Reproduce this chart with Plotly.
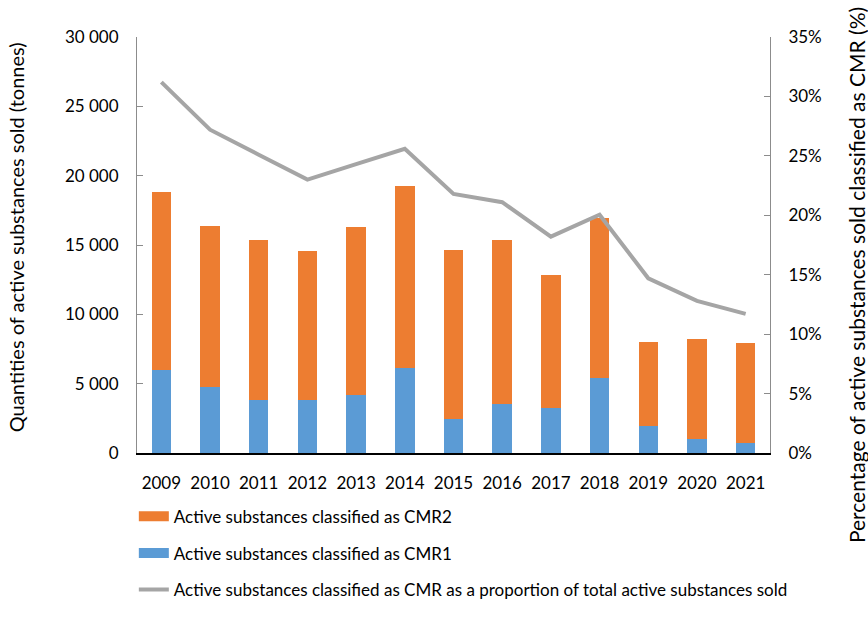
import plotly.graph_objects as go

years = ["2009", "2010", "2011", "2012", "2013", "2014", "2015",
         "2016", "2017", "2018", "2019", "2020", "2021"]
total_cmr = [18830, 16400, 15380, 14550, 16290, 19270, 14620,
             15340, 12870, 16930, 8040, 8220, 7920]
cmr1 = [6010, 4740, 3790, 3830, 4200, 6100, 2450,
        3530, 3230, 5410, 1960, 1000, 720]
cmr2 = [t - c for t, c in zip(total_cmr, cmr1)]
cmr_share = [31.2, 27.2, 25.1, 23.0, 24.3, 25.6, 21.8,
             21.1, 18.2, 20.05, 14.7, 12.8, 11.7]

name_cmr2 = "Active substances classified as CMR2"
name_cmr1 = "Active substances classified as CMR1"
name_share = "Active substances classified as CMR as a proportion of total active substances sold"

FONT = "Lato"
ORANGE = "#ED7D31"
BLUE = "#5B9BD5"
GREY = "#A5A5A5"

fig = go.Figure()
fig.add_trace(go.Bar(x=years, y=cmr1, name=name_cmr1,
                     marker=dict(color=BLUE, line=dict(width=0)),
                     showlegend=False))
fig.add_trace(go.Bar(x=years, y=cmr2, name=name_cmr2,
                     marker=dict(color=ORANGE, line=dict(width=0)),
                     showlegend=False))
fig.add_trace(go.Scatter(x=years, y=cmr_share, yaxis="y2", mode="lines",
                         name=name_share, line=dict(color=GREY, width=4),
                         legendgroup="c", legendrank=3))
# legend swatches (wide rectangles like the original)
fig.add_trace(go.Scatter(x=[None], y=[None], mode="lines", name=name_cmr2,
                         line=dict(color=ORANGE, width=10),
                         legendgroup="a", legendrank=1))
fig.add_trace(go.Scatter(x=[None], y=[None], mode="lines", name=name_cmr1,
                         line=dict(color=BLUE, width=10),
                         legendgroup="b", legendrank=2))

fig.update_layout(
    width=868, height=620,
    margin=dict(l=137, r=98, t=37, b=150),
    paper_bgcolor="white", plot_bgcolor="white",
    barmode="stack", bargap=0.6,
    separators=". ",
    font=dict(family=FONT, size=17, color="#000000"),
    showlegend=True,
    legend=dict(orientation="v", traceorder="grouped", tracegroupgap=11.5,
                x=-0.005, xanchor="left", y=-0.11, yanchor="top",
                font=dict(family=FONT, size=17, color="#000000"),
                bgcolor="rgba(0,0,0,0)"),
    xaxis=dict(showline=True, linecolor="#000000", linewidth=1.5,
               ticks="", showgrid=False, ticklabelstandoff=14,
               tickfont=dict(size=17)),
    yaxis=dict(range=[0, 30000], dtick=5000, tickformat=",d",
               showline=True, linecolor="#8C8C8C", linewidth=1,
               ticks="inside", ticklen=6, tickcolor="#8C8C8C",
               showgrid=False, zeroline=False, ticklabelstandoff=14),
    yaxis2=dict(range=[0, 35], dtick=5, ticksuffix="%", overlaying="y",
                side="right", showline=True, linecolor="#8C8C8C", linewidth=1,
                ticks="inside", ticklen=6, tickcolor="#8C8C8C",
                showgrid=False, zeroline=False, ticklabelstandoff=14),
    annotations=[
        dict(text="Quantities of active substances sold (tonnes)",
             xref="paper", yref="paper", x=-0.1906, y=0.993,
             xanchor="center", yanchor="top", textangle=-90, showarrow=False,
             font=dict(family=FONT, size=20, color="#000000")),
        dict(text="Percentage of active substances sold classified as CMR (%)",
             xref="paper", yref="paper", x=1.137, y=1.076,
             xanchor="center", yanchor="top", textangle=-90, showarrow=False,
             font=dict(family=FONT, size=21, color="#000000")),
    ],
)

fig.write_html("out.html")
